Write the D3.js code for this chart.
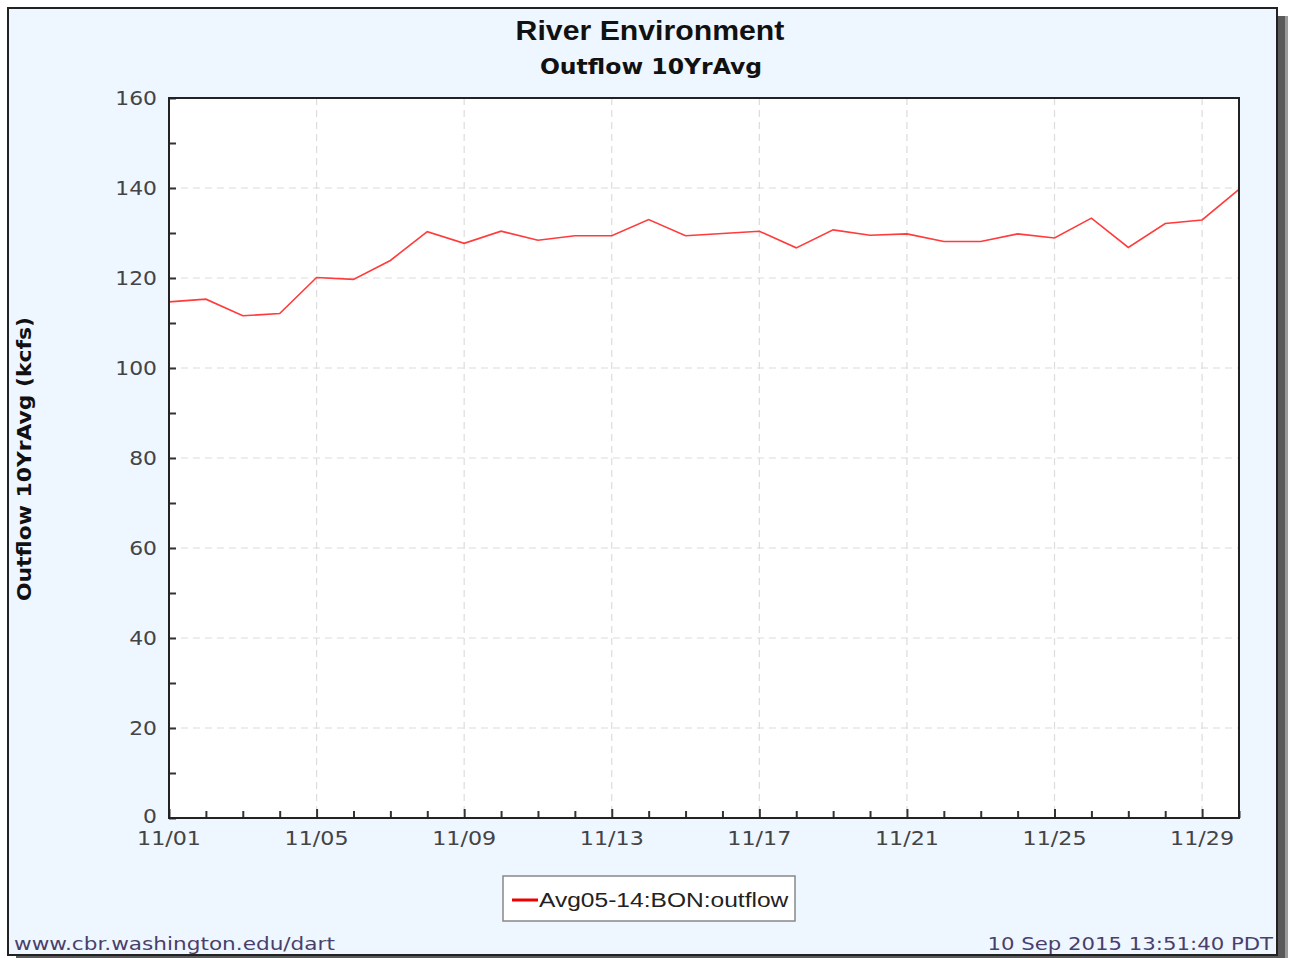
<!DOCTYPE html>
<html>
<head>
<meta charset="utf-8">
<script src="https://cdn.jsdelivr.net/npm/d3@7/dist/d3.min.js"></script>
<style>
  html, body { margin: 0; padding: 0; background: #ffffff; }
  svg { display: block; }
</style>
</head>
<body>
<svg id="chart" width="1293" height="958"></svg>
<script>
// ---- Data ----
const days = d3.range(1, 31); // November 1..30
const outflow = [114.7, 115.3, 111.6, 112.1, 120.1, 119.7, 123.9, 130.3, 127.7, 130.4,
                 128.4, 129.4, 129.4, 133.0, 129.4, 129.9, 130.4, 126.7, 130.7, 129.5,
                 129.8, 128.1, 128.1, 129.8, 128.9, 133.3, 126.8, 132.1, 132.9, 139.7];
const yTicks = [0, 20, 40, 60, 80, 100, 120, 140, 160];
const xTickDays = [1, 5, 9, 13, 17, 21, 25, 29];
const xTickLabels = ["11/01", "11/05", "11/09", "11/13", "11/17", "11/21", "11/25", "11/29"];
const seriesName = "Avg05-14:BON:outflow";
const title = "River Environment";
const subtitle = "Outflow 10YrAvg";
const yLabel = "Outflow 10YrAvg (kcfs)";
const footerLeft = "www.cbr.washington.edu/dart";
const footerRight = "10 Sep 2015 13:51:40 PDT";

// ---- Layout ----
const svg = d3.select("#chart");
const frame = {x: 8, y: 8, w: 1269, h: 947};
const plot = {l: 169, t: 98, r: 1239, b: 818};

// helper: place text with a horizontal stretch factor
function placed(sel, px, py, sx, rot) {
  return sel.attr("transform", (d, i) => {
    const X = typeof px === "function" ? px(d, i) : px;
    const Y = typeof py === "function" ? py(d, i) : py;
    return `translate(${X},${Y})` + (rot ? ` rotate(${rot})` : "") + ` scale(${sx},1)`;
  });
}

// shadow
svg.append("rect").attr("x", frame.x + 8).attr("y", frame.y + 8)
  .attr("width", frame.w + 3).attr("height", frame.h + 3).attr("fill", "#9a9a9a");
svg.append("rect").attr("x", frame.x + 8).attr("y", frame.y + 8)
  .attr("width", frame.w).attr("height", frame.h).attr("fill", "#5a5a5a");
// frame
svg.append("rect").attr("x", frame.x).attr("y", frame.y)
  .attr("width", frame.w).attr("height", frame.h)
  .attr("fill", "#eef6ff").attr("stroke", "#222").attr("stroke-width", 2);

const x = d3.scaleLinear().domain([1, 30]).range([plot.l, plot.r]);
const y = d3.scaleLinear().domain([0, 160]).range([plot.b, plot.t]);

// plot background
svg.append("rect").attr("x", plot.l).attr("y", plot.t)
  .attr("width", plot.r - plot.l).attr("height", plot.b - plot.t).attr("fill", "#ffffff");

// grid
const grid = svg.append("g").attr("stroke", "#dcdcdc").attr("stroke-width", 1.2)
  .attr("stroke-dasharray", "7,5");
grid.selectAll("line.v").data(xTickDays.slice(1)).join("line")
  .attr("x1", d => x(d)).attr("x2", d => x(d)).attr("y1", plot.t).attr("y2", plot.b);
grid.selectAll("line.h").data(yTicks.slice(1, -1)).join("line")
  .attr("x1", plot.l).attr("x2", plot.r).attr("y1", d => y(d)).attr("y2", d => y(d));

// y axis (ticks inside)
const yAxis = d3.axisRight(y).tickValues(d3.range(0, 161, 10)).tickSize(7).tickFormat("");
svg.append("g").attr("transform", `translate(${plot.l},0)`).call(yAxis)
  .call(g => g.select(".domain").remove())
  .call(g => g.selectAll("line").attr("stroke", "#333").attr("stroke-width", 2));
placed(svg.append("g").selectAll("text").data(yTicks).join("text"),
       plot.l - 12, d => y(d) + (d === 0 ? 5 : 7), 1.15)
  .attr("text-anchor", "end").attr("font-family", "DejaVu Sans").attr("font-size", 19)
  .attr("fill", "#444").text(d => d);

// x axis (ticks inside, upward)
const xAxis = d3.axisTop(x).tickValues(days).tickSize(7).tickFormat("");
svg.append("g").attr("transform", `translate(0,${plot.b})`).call(xAxis)
  .call(g => g.select(".domain").remove())
  .call(g => g.selectAll("line").attr("stroke", "#333").attr("stroke-width", 2))
  .call(g => g.selectAll(".tick").filter(d => xTickDays.includes(d)).select("line").attr("y2", -9));
placed(svg.append("g").selectAll("text").data(xTickDays).join("text"),
       d => x(d), plot.b + 27, 1.17)
  .attr("text-anchor", "middle").attr("font-family", "DejaVu Sans").attr("font-size", 19)
  .attr("fill", "#444").text((d, i) => xTickLabels[i]);

// line
const line = d3.line().x((d, i) => x(days[i])).y(d => y(d));
svg.append("path").datum(outflow).attr("d", line)
  .attr("fill", "none").attr("stroke", "#ff3b3b").attr("stroke-width", 1.6);

// plot border
svg.append("rect").attr("x", plot.l).attr("y", plot.t)
  .attr("width", plot.r - plot.l).attr("height", plot.b - plot.t)
  .attr("fill", "none").attr("stroke", "#222").attr("stroke-width", 2);

// titles
placed(svg.append("text"), 650, 40, 1.12).attr("text-anchor", "middle")
  .attr("font-family", "Liberation Sans, Arial").attr("font-weight", "bold")
  .attr("font-size", 27).attr("fill", "#111").text(title);
placed(svg.append("text"), 651, 74, 1.12).attr("text-anchor", "middle")
  .attr("font-family", "DejaVu Sans").attr("font-weight", "bold")
  .attr("font-size", 21).attr("fill", "#111").text(subtitle);

// y label
placed(svg.append("text"), 31, 459, 1.15, -90)
  .attr("text-anchor", "middle").attr("font-family", "DejaVu Sans").attr("font-weight", "bold")
  .attr("font-size", 19).attr("fill", "#111").text(yLabel);

// legend
const lg = svg.append("g");
lg.append("rect").attr("x", 503).attr("y", 876).attr("width", 292).attr("height", 45)
  .attr("fill", "#fff").attr("stroke", "#888").attr("stroke-width", 1.5);
lg.append("line").attr("x1", 512).attr("x2", 538).attr("y1", 900).attr("y2", 900)
  .attr("stroke", "#ee0000").attr("stroke-width", 3);
placed(lg.append("text"), 539, 907, 1.17).attr("font-family", "Liberation Sans, Arial")
  .attr("font-size", 21).attr("fill", "#222").text(seriesName);

// footer
placed(svg.append("text"), 14, 950, 1.2).attr("font-family", "DejaVu Sans")
  .attr("font-size", 18).attr("fill", "#4a3f6b").text(footerLeft);
placed(svg.append("text"), 1273, 950, 1.18).attr("text-anchor", "end").attr("font-family", "DejaVu Sans")
  .attr("font-size", 18).attr("fill", "#4a3f6b").text(footerRight);
</script>
</body>
</html>
